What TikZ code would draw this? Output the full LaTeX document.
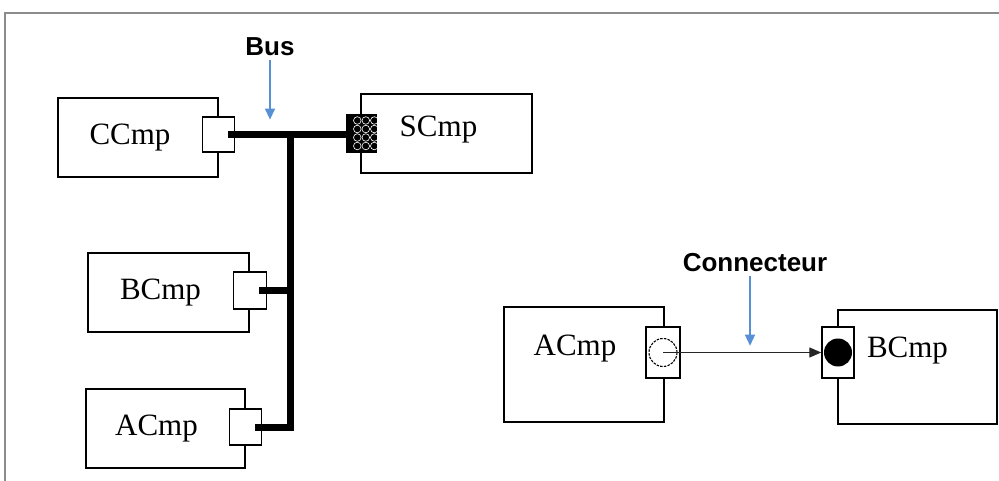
\documentclass[tikz,border=0pt]{standalone}
\usepackage{fontspec}
\setmainfont{Liberation Serif}
\newfontfamily\calloutfont{Liberation Sans}
\usetikzlibrary{positioning, arrows.meta}
\definecolor{callblue}{RGB}{88,144,214}
\definecolor{framegray}{RGB}{140,140,140}
\tikzset{
  cmpbox/.style={draw, line width=1.4pt, minimum width=#1, minimum height=79pt, inner sep=0pt},
  cmpname/.style={font=\fontsize{31}{31}\selectfont},
  portbox/.style={draw, fill=white, line width=1.4pt, inner sep=0pt},
  busline/.style={line width=7pt, line cap=rect},
  callout/.style={font=\calloutfont\bfseries\fontsize{26}{26}\selectfont},
  callarrow/.style={-{Triangle[length=11pt, width=10pt]}, callblue, line width=1.3pt}
}

\begin{document}
\begin{tikzpicture}[x=1pt, y=-1pt]
\useasboundingbox (0,0) rectangle (999,481);
\draw[framegray, line width=1.2pt] (5,481) -- (5,13) -- (999,13);

% Bus side
\node (cc) at (138,137.5) [cmpbox=160pt, label={[cmpname, xshift=-8pt]center:CCmp}] {};
\node (bc) at (168.5,292.5) [cmpbox=161pt, label={[cmpname, xshift=-8pt]center:BCmp}] {};
\node (ac) at (165.5,428.5) [cmpbox=159pt, label={[cmpname, xshift=-9pt]center:ACmp}] {};
\node (sc) at (446.5,133.5) [cmpbox=171pt, label={[cmpname, xshift=-8pt, yshift=4pt]center:SCmp}] {};
\node (ccp) at ([yshift=3pt]cc.east) [portbox, minimum width=32pt, minimum height=35pt] {};
\node (bcp) at ([yshift=2pt]bc.east) [portbox, minimum width=33pt, minimum height=37pt] {};
\node (acp) at ([yshift=1.5pt]ac.east) [portbox, minimum width=32pt, minimum height=36pt] {};
\node (scp) at ([xshift=1pt]sc.west) [portbox, fill=black, minimum width=30pt, minimum height=37pt] {};
\foreach \i in {0,1,2}
  \foreach \j in {0,1,2,3}
    \draw[white, line width=0.6pt] ([xshift=5pt+\i*8.5pt, yshift=13pt-\j*8.5pt]scp.center) ++(-9pt,0) circle (3.8pt);
\coordinate (jn) at (290,134.5);
\draw[busline] ([xshift=-4pt]ccp.east) -- ([xshift=4pt]ccp.east -| scp.west);
\draw[busline] ([xshift=-4pt]acp.east) -| (jn);
\draw[busline] ([xshift=-4pt]bcp.east) -- (bcp.east -| jn);
\node (bus) at (270,47) [callout] {Bus};
\draw[callarrow] (bus.south) -- ([yshift=-60pt]bus.south);

% Connector side
\node (ac2) at (584,364.5) [cmpbox=160pt, minimum height=115pt, label={[cmpname, xshift=-9pt, yshift=15.5pt]center:ACmp}] {};
\node (bc2) at (917.5,367) [cmpbox=159pt, minimum height=114pt, label={[cmpname, xshift=-10pt, yshift=16pt]center:BCmp}] {};
\node (ac2p) at (663,352.5) [portbox, minimum width=34pt, minimum height=51pt] {};
\node (bc2p) at (838,352.5) [portbox, minimum width=32pt, minimum height=51pt] {};
\node (ac2c) at (ac2p.center) [circle, draw, dash pattern=on 2.5pt off 1.2pt, line width=1.1pt, minimum size=28pt] {};
\node (bc2c) at (bc2p.center) [circle, fill=black, minimum size=28pt] {};
\draw[-{Triangle[length=12pt, width=10pt]}, line width=1.3pt, black!85] (ac2c.center) -- (bc2p.west);
\node (conn) at (755,263) [callout] {Connecteur};
\draw[callarrow] ([xshift=-5pt]conn.south) -- ([xshift=-5pt, yshift=-70pt]conn.south);
\end{tikzpicture}
\end{document}
